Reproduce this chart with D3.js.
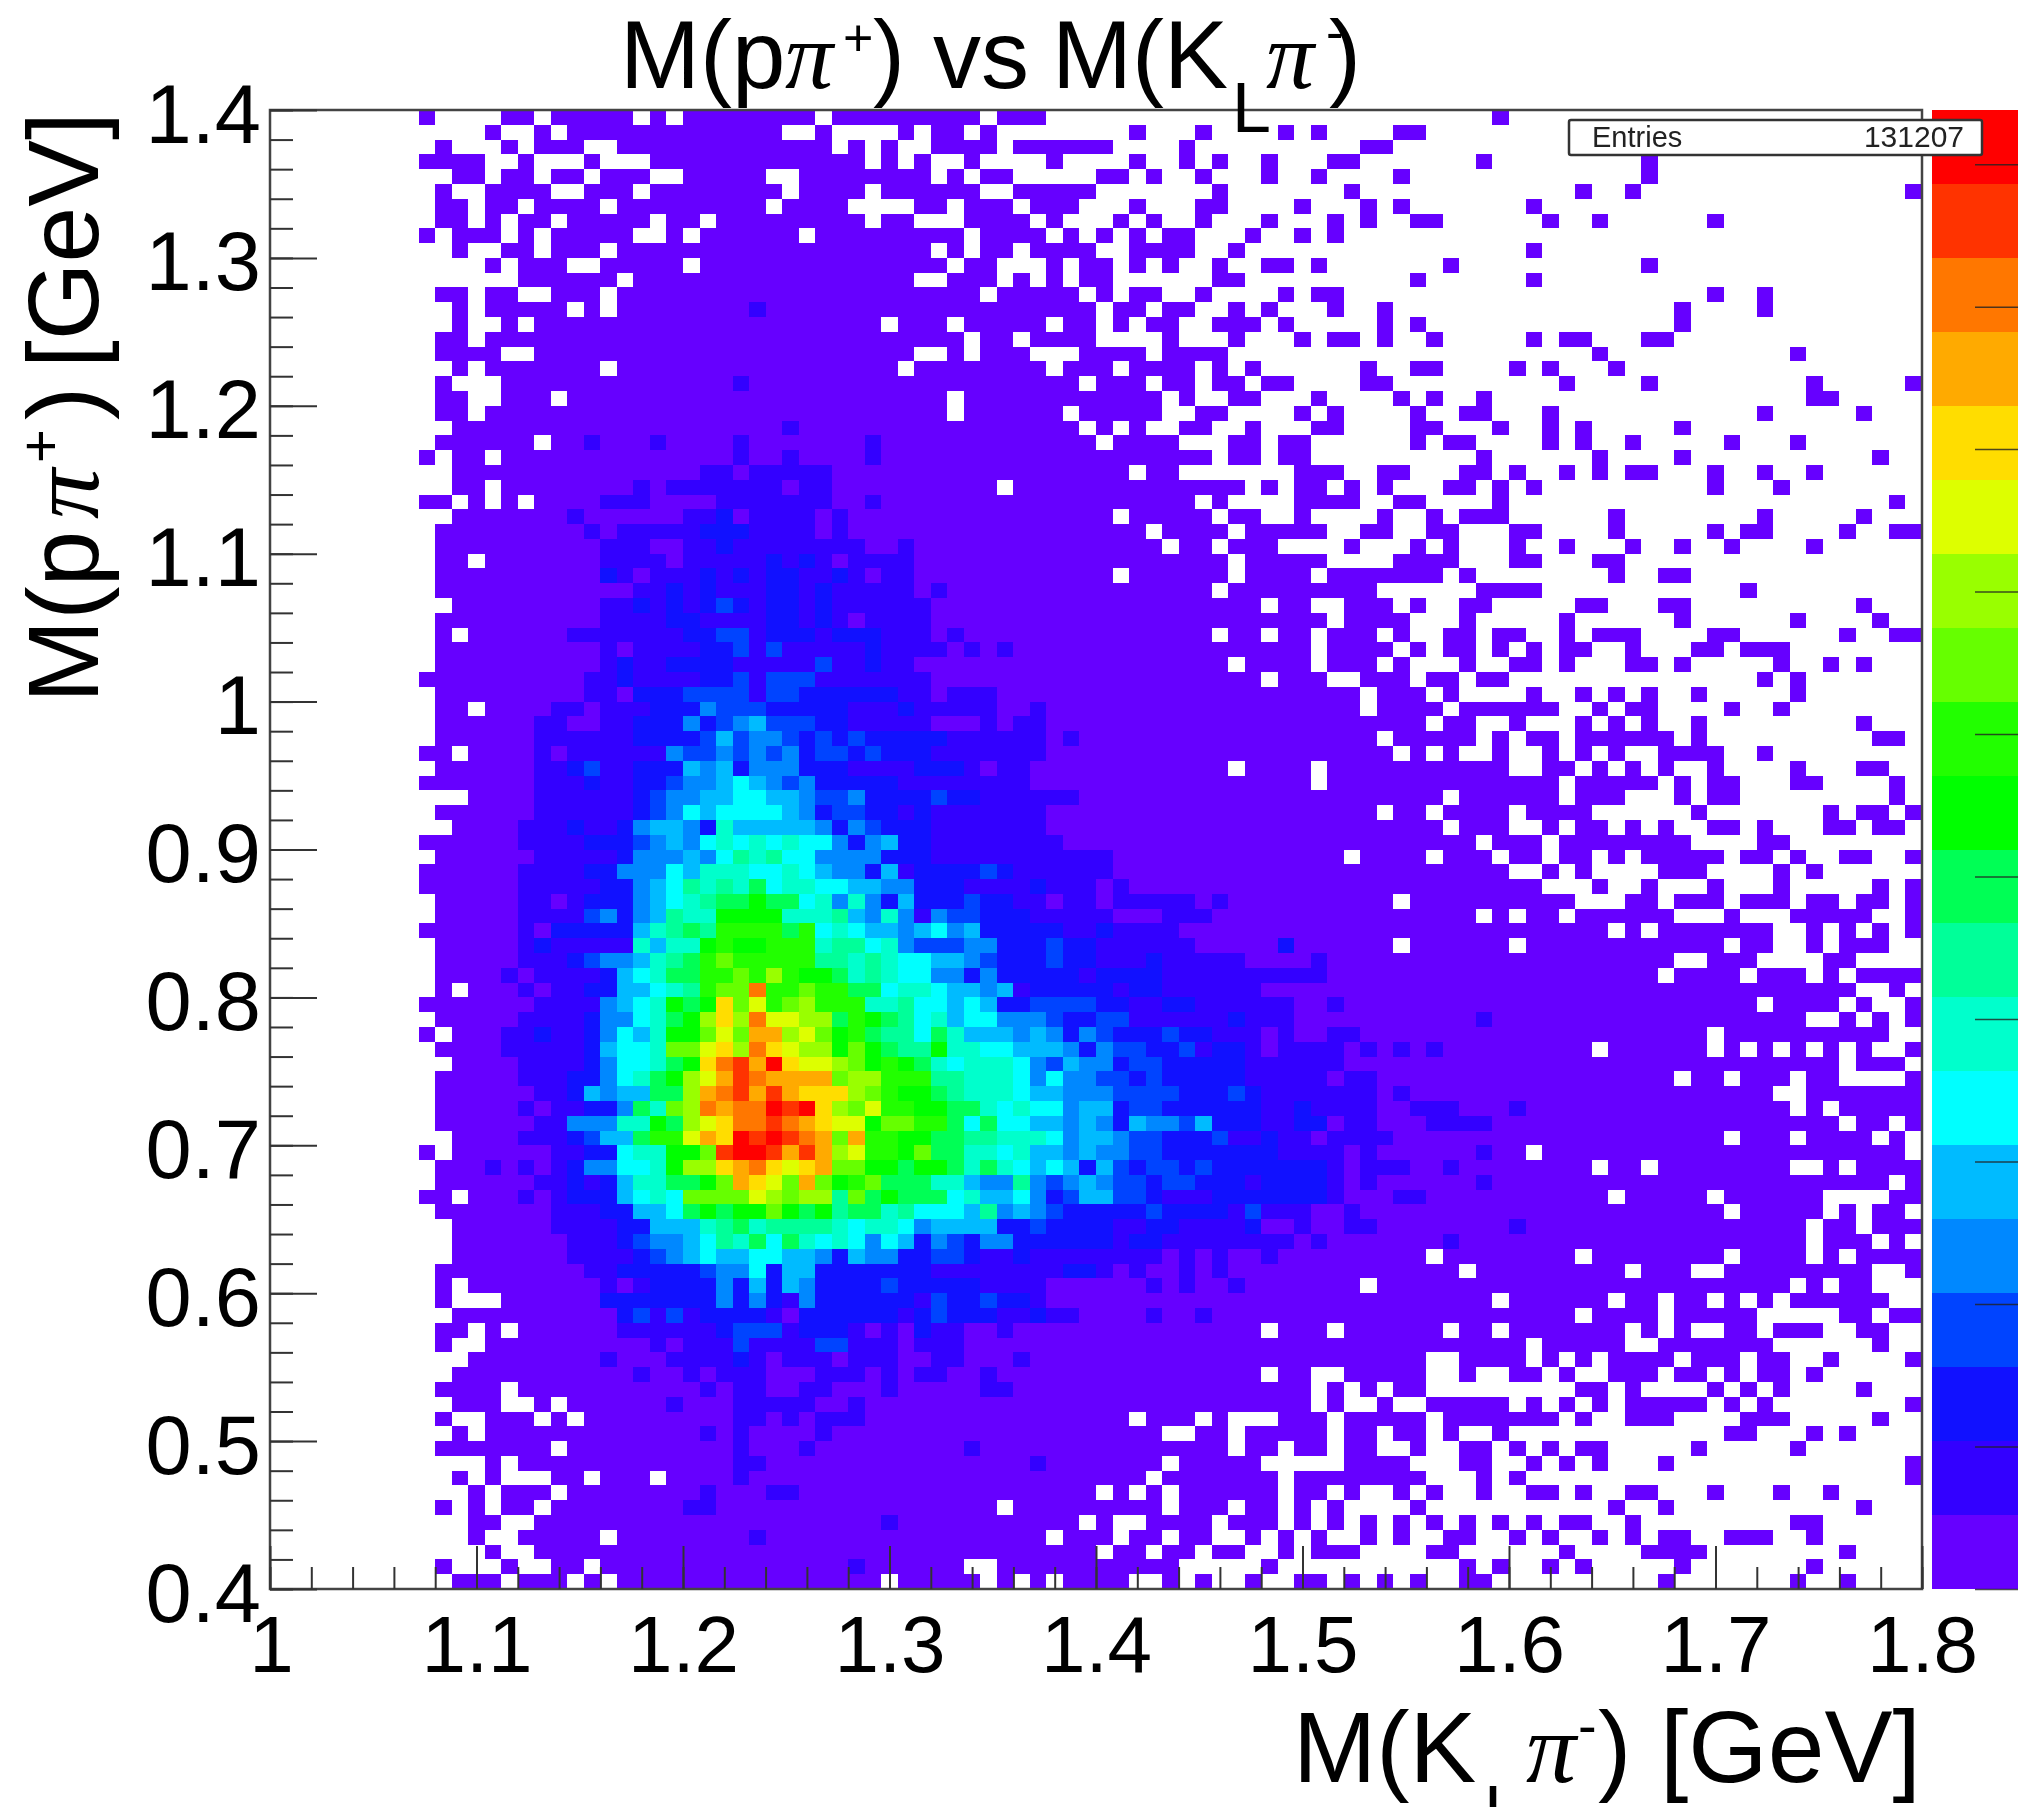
<!DOCTYPE html>
<html>
<head>
<meta charset="utf-8">
<script src="https://cdn.jsdelivr.net/npm/d3@7"></script>
<style>
  html, body { margin: 0; padding: 0; background: #fff; overflow: hidden; }
  text { font-family: "Liberation Sans", Arial, sans-serif; fill: #000; }
  /* the reference is a slightly soft upscaled bitmap */
  svg { filter: blur(0.7px); }
</style>
</head>
<body>
<script>
const xTickLabels = ["1", "1.1", "1.2", "1.3", "1.4", "1.5", "1.6", "1.7", "1.8"];
const yTickLabels = ["0.4", "0.5", "0.6", "0.7", "0.8", "0.9", "1", "1.1", "1.2", "1.3", "1.4"];
const entriesLabel = "Entries";
const entriesValue = "131207";
const zTicks = [0, 10, 20, 30, 40, 50, 60, 70, 80, 90, 100];

// the 20 colour levels of the z axis, bottom to top
const palette = ["#6600ff", "#3300ff", "#1111ff", "#0044ff", "#0088ff", "#00bbff", "#00ffff", "#00ffcc", "#00ff99", "#00ff55",
  "#00ff00", "#22ff00", "#66ff00", "#99ff00", "#ddff00", "#ffdd00", "#ffaa00", "#ff7700", "#ff3300", "#ff0000"];

// filled bins per row (top row first), as column numbers and ranges. 100 x 100 bins.
const occupied = [
  "9 14-15 17-21 23 25-32 34-42 44-46 74",
  "13 16 18-30 33 38 40-41 43 52 56 61 63 68-69",
  "10 14 16-18 21-33 35 37 40-43 45-50 55 66-67",
  "9-12 15 19 23-35 37 39 42 47 52 55 57 60 64-65 73 83",
  "11-12 14-15 17-18 20-22 25-29 32-39 41 43-44 50-51 53 56 60 63 68 83",
  "10 13-16 19-21 23-30 32-35 37-42 45-49 57 65 79 82 99",
  "10-11 13-14 16-19 21-29 31-34 39-40 42-44 46-48 52 56-57 62 66 68 76",
  "10-11 13 15-16 18-22 24-25 27-35 37-38 42-45 47 51 53 56 60 64 66 69-70 77 80 87",
  "9 11-13 15 17-21 24 26-31 33-41 43-46 48 50 52 54-55 59 62 64",
  "11 14-15 17-19 21-39 41 43-44 46-49 52-55 58 76",
  "13 15-17 20-24 26-40 42-43 47 49-50 52 54 57 60-61 63 71 83",
  "15-20 22-38 41-43 45 47 49-50 57-58 69 76",
  "10-11 13-14 17-19 21-42 44-48 50 52-53 56 61 63-64 87 90",
  "11 13-17 19 21-49 51-52 54-55 58 60 64 67 85 90",
  "11 14 16-36 38-40 42-46 48-49 51 53-54 57-59 61 67 69 85",
  "10-11 13-41 43-44 46-49 54 58 62 64-65 67 70 76 78-79 83-84",
  "10-13 16-38 41 43-45 49-52 54-57 80 92",
  "11 13-19 21-37 39-46 48-50 52-55 57 59 66 69-70 75 77 81",
  "10 14-48 50-52 54-55 57-58 60-61 66-67 78 83 93 99",
  "10-11 14-16 18-40 42-53 55 58-59 63 68 70 73 93-94",
  "10-11 13-40 42-47 49-53 56-57 62 64 69 72-73 77 90 96",
  "11-48 50 52 55-56 59 63-64 69-70 74 77 79 85",
  "10-15 17-49 51-54 58-59 61-62 69 71-72 77 79 82 88 92",
  "9 11-12 14-56 58-59 61-62 73 80 85 97",
  "11-51 53-54 62-64 67-68 72-73 75 78 80 82-83 87 90 93",
  "11-12 14-43 45-58 60 62-63 65 67 71-72 74 76 87 91",
  "9-10 12 14 16-55 57 62-65 68-69 74 98",
  "11-50 52-56 58-59 62 67 70 72-74 81 90 96",
  "10-52 54-57 59-63 66-67 70-71 75-76 81 87 89-90 95 98-99",
  "10-53 55-56 58-60 65 69 71 75 78 82 85 88 93",
  "10-11 13-57 59-63 68-71 75-76 80-81",
  "10-50 52-57 59-62 64-70 72 81 84-85",
  "10-56 58-66 73-76 89",
  "11-59 61-62 65-67 69 72-73 79-80 84-85 96",
  "10-63 65-68 72 78 85 92 97",
  "10 12-56 58-59 61-62 64-66 68 71-72 74-75 78 80-82 87-88 95 98-99",
  "10-62 64-67 69 71-72 74 76 78-79 82 86-87 89-91",
  "10-57 59-62 64-66 68 72 75-76 78 82-83 85 91 94 96",
  "9-59 61-63 66-68 70-71 73-74 90 92",
  "10-65 67-69 71 76 79 81 83 86 92",
  "10-11 13-65 67-70 72-77 80 82-83 88 91",
  "10-69 71-72 75 79 81 83 86 96",
  "10-66 68-72 74 76-77 79-84 86 97-98",
  "9-10 12-67 69 71 74 77 79 81 84-87 90",
  "10-57 59-62 64-74 77-78 80 82 84 87 92 96-97",
  "9-62 64-77 79-83 85 87-88 92-93 98",
  "12-70 72-77 79-81 85 87-88 98",
  "10-66 68-69 71-74 76-79 86 94 96-97 99",
  "11-70 72-74 77 79-80 82 84 87-88 90 94-95 97-98",
  "9-72 74-76 78-85 90-91",
  "10-64 66-69 71-73 75-76 78-79 81 83-87 89-90 92 95-96 99",
  "9-74 77 79 84-86 91 93",
  "9-76 80 83 87 91 97 99",
  "10-67 69-78 82-83 85-87 89-91 93-94 96-97 99",
  "10-72 74 76-77 79-84 88 92-96 99",
  "9-80 82 84-90 93 95 97 99",
  "10-67 69-74 76-87 89-90 93 95-97",
  "10-84 87-89 94-95",
  "10-83 85-88 90-92 94 96-99",
  "10 12-95 98",
  "9-89 91-94 96 99",
  "10-92 95 97 99",
  "9 11-86 88-97",
  "10-79 81-86 88 90 92 94 96 99",
  "11-94 96-98",
  "10-84 86-87 89-91 93-94 99",
  "10-90 93-99",
  "10-91 93 95-99",
  "10-94 96-97 99",
  "11-87 89-91 93-96 98",
  "9 11-75 77-98",
  "10-79 81-82 84-91 94 96-99",
  "10-97 99",
  "9-10 12-80 82-86 88-93 98-99",
  "10-87 89-93 95 97-98",
  "11-92 94-95 97-99",
  "11-92 94-96 98",
  "11-69 71-78 80-87 89-92 94 96-99",
  "10-71 73-81 83-85 88-96 99",
  "10 12-65 67-91 93 95-96",
  "10 14-73 75-80 82-83 85-86 88 90 92-97",
  "11-78 80-83 85-89 95-96 98-99",
  "10-11 13 15-59 61-63 65-70 72-73 75-81 83 85 88-89 91-93 96-97",
  "10 13-75 77-81 84-90 97",
  "12-69 72-75 77 79 81-84 86-88 90-91 94 99",
  "11-59 61-62 65-69 72 75-76 78 81-83 85-86 88 90-91 93",
  "10-13 15-62 64 66 68-69 79-80 82 87 89 91 96",
  "11-13 16 18-62 64 67 70-74 76 78 80 82-86 88 90 99",
  "10 13-15 17 19-51 53-55 57 61-63 65-69 71-77 79 82-84 89-91 97",
  "11 13-53 56-57 59-63 65-66 68-69 71 74 88-89 93 95",
  "10-16 18-57 59-60 62-63 65-66 69 72-73 75 77 79-80 86 92",
  "13 15-53 55-59 65-68 72-73 76 78 80 84 99",
  "11 13 17-18 20-22 24-52 54-60 62-69 73 75 99",
  "12 14-16 18-49 51 53 55-60 62-63 65 68 70 73 76-77 79 82-83 87 91 94",
  "10 12 14-15 17-43 45-53 55-57 59-60 62 64 69 81 84 96",
  "12-13 16-48 50 53-56 58-60 62 64 66 68 70 72 74 76 78-79 82 92-93",
  "12 15-19 21-46 48-50 52-53 55-56 59 61 63 66 68 71-72 75 77 80 82 84-85 88-90 93",
  "13 16-49 51-52 54-55 57-58 61 63-65 70-71 78 83-86 95",
  "10 14 17-18 20-41 44-54 60 72 74 77 79 85 93",
  "11-13 15-17 19 21-36 38-42 44 46 48-51 54 56 59 62-63 65 67 69 72-73 84 92 95"
];

// colour level above 1: [row, first column, levels] with one base-36 digit per bin
const levelRows = [
  [13, 29, "2"], [18, 28, "2"], [21, 31, "2"],
  [22, 19, "2"], [22, 23, "2"], [22, 28, "2"], [22, 36, "2"],
  [23, 28, "2"], [23, 31, "2"], [23, 36, "2"],
  [24, 26, "22"], [24, 29, "22222"],
  [25, 22, "2"], [25, 24, "2222222"], [25, 32, "22"],
  [26, 20, "222"], [26, 27, "2222222"], [26, 36, "2"],
  [27, 18, "2 111111 22 3 1 2222 1 2"],
  [28, 19, "2 1 22222 333 2222 1 2"],
  [29, 20, "222 11 22 3 22222222 11 2"],
  [30, 20, "2222 1 22222 3 2 3 2 1 2222"],
  [31, 20, "3212223232 332232122"],
  [32, 20, "11 22 3 2 3 222 33 2 3 22222 1 2"],
  [33, 20, "22 3 2 3 2 3 4 3 2 33 2 3 222222"],
  [34, 20, "2222 33 2222 33 2 3 2 1 2222"],
  [35, 18, "2222222 33 44 2 333 2 333 222 1 2"],
  [36, 20, "21 2222 33 4 2 4 22222 3 2222 1 2 1 2"],
  [37, 20, "2322333322 2224223221"],
  [38, 19, "22 3 2222 33 4 2 444 2222222"],
  [39, 19, "22 1 333 4444 2 44 33333 3 22 1 222"],
  [40, 14, "1112212223 3354443333 3222322222 1121"],
  [41, 14, "1122112233 3534564443 3222221112 1221"],
  [42, 14, "1122222233 3346455434 3433333222 2221 2"],
  [43, 14, "1121222222 5445454534 4343332222 2221"],
  [44, 14, "1122342233 3656355533 3222233321 2211"],
  [45, 14, "1122232233 4556765453 3333222222 2211"],
  [46, 14, "1122222234 5566776654 4533334332 2222 2"],
  [47, 14, "1122222234 5767777653 4433232222 2221"],
  [48, 14, "1222322356 6538666665 3543332222 2221"],
  [49, 14, "1222233345 6578787877 5356332222 2222"],
  [50, 14, "1122222355 5657989775 5553332222 2222 222"],
  [51, 14, "1222233555 7688877876 5536233334 3222 222"],
  [52, 14, "1222223356 79898a7887 7665533322 2232 2212"],
  [53, 14, "1221233356 789aabaa78 5853633343 3221 2212222212"],
  [54, 14, "1222245356 988bbbb888 9658525443 3322 222111222"],
  [55, 14, "1213333368 9a9ccccac7 8766567563 3333 2232222"],
  [56, 14, "1232222286 88bcbbccc8 9978544455 3334 33222222"], [56, 61, "3"],
  [57, 14, "1222345568 9acdccccc9 9898776654 3334 33222322222"], [57, 63, "2"],
  [58, 14, "2122223678 aaccdcecbb a898775535 3333 32 3333 2222222222"],
  [59, 14, "1212233667 89cddiccdc caa7887665 6233 333 2 33 222222"],
  [60, 14, "1122225678 babgdfcdec cc88977676 3344 44 33 22 33 222222"], [60, 64, "2"],
  [61, 14, "1222235578 abegeiffee acba978677 5554 33 44 222222 3 222"], [61, 73, "2"],
  [62, 14, "2232235768 bbdfdhhefd bca997a866 6565 354 333 4 33 22 2 1 2 11 22"],
  [63, 14, "2222236778 ddfgeigfee bdba99b887 7666 535 44 33 4 2 33 2 1 2222 1 2 1 2 1 2"],
  [64, 14, "1222235778 abgijhkgff edbcba8788 8754 655 3 44 33333 222222"],
  [65, 14, "122233578a befhjihhhh deeccc9988 8757 55 44 3 4 33333 22222 1 22"],
  [66, 14, "112236566a aehijhjhgg gedcbba988 8766 555 4444 333 4 3 2222222 1 2"],
  [67, 14, "12122335a8 deihiikjkg edfccbbaa8 7877 566 3 44 3 33333 22 3 2222 11 222 111 2"],
  [68, 14, "112255588b aefgiijihg ffbddcca7a 7766 565 3 6 55 4 6 333 22 33 1 22 111 2222"],
  [69, 14, "12223466ac cfhgkjkjih dhccbbaa99 8887 566 5 44 33 3 4 22 3 22 1 2222"],
  [70, 14, "1112233788 bbdjkkjhjh efccbdaa88 7866 565 5 44 3333333 2222 1 2"], [70, 73, "2"],
  [71, 13, "2 1212355778 beeghigfgh ddbbabba8a 8767 636 4 3 44 3 4 33333 33 2 1 222"], [71, 71, "2"],
  [72, 14, "1122323688 aabdhgfdhd bcdaaa8865 5954 565 44 3 44 333 2 33 33 2 1 2"], [72, 73, "2"],
  [73, 14, "1212333678 7ddddfedee 9dabaaa786 6753 4 66 44 3 222 3333333 2"], [73, 68, "22"],
  [74, 14, "1112223366 7ababbdbab 9aa8977769 5654 33333 4 3333 2 4 222 11 2"],
  [75, 14, "1112222336 6689a89999 8788756666 3343 333 22 33 2222 3 11 2 11 22"], [75, 75, "2"],
  [76, 14, "1111222345 56798a7a87 8757635435 5333 333 2 33 22222222 1 2"], [76, 71, "2"],
  [77, 14, "1111222234 5676677665 3655334432 2322 222222 1 2 1 2"], [77, 60, "2"],
  [78, 14, "1111122333 3345573663 3333332222 2222 33 2 1 2 11 2 1 2"],
  [79, 14, "1111112123 3335363653 3334333332 2221"], [79, 53, "2"], [79, 55, "2"], [79, 58, "2"],
  [80, 20, "3333333 5 3 5 3 2 5 333333 2 4 33 4 33 2 1"],
  [81, 21, "3 4 2 4 2 3 333 2 1 333333 2 3 4 333 22 3 2 2"], [81, 53, "2"], [81, 56, "2"],
  [82, 21, "222222 3 444 2 333 2 1 2 1 3 22 11 2"],
  [83, 23, "2 1 22 2 4 2222 44 222 1 222"],
  [84, 20, "2"], [84, 24, "2222 3 2 1 222 1 222 11 22"], [84, 45, "2"],
  [85, 22, "2"], [85, 25, "2 1 222 111 222 1 2 1 22"], [85, 43, "2"],
  [86, 26, "21 22 11 22 11 1 2"], [86, 43, "22"],
  [87, 24, "2"], [87, 28, "22"], [87, 30, "222"], [87, 35, "2"],
  [88, 28, "22"], [88, 31, "2"], [88, 33, "222"],
  [89, 26, "212"], [89, 33, "2"],
  [90, 28, "2"], [90, 32, "2"], [90, 42, "2"],
  [91, 28, "22"], [91, 46, "2"],
  [92, 28, "2"], [93, 26, "2"], [93, 30, "22"], [94, 25, "22"],
  [95, 37, "2"], [96, 29, "2"], [98, 35, "2"]
];

const width = 2018;
const height = 1807;
const plot = { left: 270, right: 1922, top: 110, bottom: 1589 };
const zMax = 103.8;

const x = d3.scaleLinear().domain([1, 1.8]).range([plot.left, plot.right]);
const y = d3.scaleLinear().domain([0.4, 1.4]).range([plot.bottom, plot.top]);
const z = d3.scaleLinear().domain([0, zMax]).range([plot.bottom, plot.top]);
const color = d3.scaleQuantize().domain([0, zMax]).range(palette);

// unpack the two tables into one grid of z values
const levelAt = new Map();
occupied.forEach((ranges, row) => {
  ranges.split(" ").forEach(part => {
    const ends = part.split("-").map(Number);
    for (let col = ends[0]; col <= ends[ends.length - 1]; col++) levelAt.set(row * 100 + col, 1);
  });
});
levelRows.forEach(([row, start, digits]) => {
  digits.replace(/ /g, "").split("").forEach((ch, i) => {
    const key = row * 100 + start + i;
    if (levelAt.has(key)) levelAt.set(key, parseInt(ch, 36));
  });
});
const bins = Array.from(levelAt, ([key, level]) => ({
  row: Math.floor(key / 100),
  col: key % 100,
  value: (level - 0.5) * zMax / palette.length
}));

const svg = d3.select("body").append("svg")
  .attr("width", width)
  .attr("height", height)
  .style("display", "block");

// bins, snapped to whole pixels so no seams show between them
svg.append("g").selectAll("rect")
  .data(bins)
  .join("rect")
  .attr("x", d => Math.round(x(1 + d.col * 0.008)))
  .attr("width", d => Math.round(x(1 + (d.col + 1) * 0.008)) - Math.round(x(1 + d.col * 0.008)))
  .attr("y", d => Math.round(y(1.4 - d.row * 0.01)))
  .attr("height", d => Math.round(y(1.4 - (d.row + 1) * 0.01)) - Math.round(y(1.4 - d.row * 0.01)))
  .attr("fill", d => color(d.value))
  .attr("shape-rendering", "crispEdges");

// colour bar, cut off by the right edge of the page
svg.append("g").selectAll("rect")
  .data(palette)
  .join("rect")
  .attr("x", 1932)
  .attr("width", width - 1932 + 4)
  .attr("y", (d, i) => Math.round(z((i + 1) * zMax / palette.length)))
  .attr("height", (d, i) => Math.round(z(i * zMax / palette.length)) - Math.round(z((i + 1) * zMax / palette.length)))
  .attr("fill", d => d)
  .attr("shape-rendering", "crispEdges");

const zAxis = svg.append("g")
  .attr("transform", `translate(${width},0)`)
  .call(d3.axisLeft(z).tickValues(zTicks).tickSize(43).tickFormat(""));
zAxis.select(".domain").remove();
zAxis.selectAll("line").attr("stroke", "#222").attr("stroke-opacity", 0.8).attr("stroke-width", 1.5);

// frame and ticks
svg.append("rect")
  .attr("x", plot.left).attr("y", plot.top)
  .attr("width", plot.right - plot.left).attr("height", plot.bottom - plot.top)
  .attr("fill", "none").attr("stroke", "#444").attr("stroke-width", 2.5);

function styleTicks(g) {
  g.select(".domain").remove();
  g.selectAll("line").attr("stroke", "#333").attr("stroke-width", 2);
}

const xMinor = d3.range(0, 41).map(i => 1 + i * 0.02);
const yMinor = d3.range(0, 51).map(i => 0.4 + i * 0.02);
const xMajor = xTickLabels.map(Number);
const yMajor = yTickLabels.map(Number);

svg.append("g").attr("transform", `translate(0,${plot.bottom})`)
  .call(d3.axisBottom(x).tickValues(xMinor).tickSize(-22).tickFormat(""))
  .call(styleTicks);
svg.append("g").attr("transform", `translate(${plot.left},0)`)
  .call(d3.axisLeft(y).tickValues(yMinor).tickSize(-23).tickFormat(""))
  .call(styleTicks);

const xAxis = svg.append("g").attr("transform", `translate(0,${plot.bottom})`)
  .call(d3.axisBottom(x).tickValues(xMajor).tickSize(-43).tickFormat((d, i) => xTickLabels[i]))
  .call(styleTicks);
xAxis.selectAll("text")
  .attr("y", 83).attr("dy", 0)
  .attr("font-size", 80);
xAxis.selectAll("text").filter((d, i) => i === 0).attr("dx", 1);

const yAxis = svg.append("g").attr("transform", `translate(${plot.left},0)`)
  .call(d3.axisLeft(y).tickValues(yMajor).tickSize(-47).tickFormat((d, i) => yTickLabels[i]))
  .call(styleTicks);
yAxis.selectAll("text")
  .attr("x", -9).attr("dy", 32)
  .attr("text-anchor", "end")
  .attr("font-size", 83);
svg.selectAll("g.tick text").style("font-family", '"Liberation Sans", Arial, sans-serif').attr("fill", "#000");

// titles are set piece by piece, the sub and superscripts sit at their own offsets
function piece(g, str, px, py, size, greek) {
  g.append("text")
    .attr("x", px).attr("y", py)
    .attr("font-size", size)
    .style("font-family", greek ? '"Liberation Serif", serif' : null)
    .style("font-style", greek ? "italic" : null)
    .text(str);
}

const title = svg.append("g");
piece(title, "M(p", 620, 88, 96);
piece(title, "π", 785, 88, 96, true);
piece(title, "+", 843, 56, 52);
piece(title, ")", 873, 88, 96);
piece(title, "vs", 933, 88, 96);
piece(title, "M(K", 1052, 88, 96);
piece(title, "L", 1232, 132, 70);
piece(title, "π", 1266, 88, 96, true);
piece(title, "-", 1326, 50, 52);
piece(title, ")", 1329, 88, 96);

const xTitle = svg.append("g");
piece(xTitle, "M(K", 1293, 1782, 100);
piece(xTitle, "L", 1484, 1835, 70);
piece(xTitle, "π", 1526, 1782, 100, true);
piece(xTitle, "-", 1578, 1745, 56);
piece(xTitle, ")", 1598, 1782, 100);
piece(xTitle, "[GeV]", 1660, 1782, 102);

const yTitle = svg.append("g").attr("transform", "translate(98,703) rotate(-90)");
piece(yTitle, "M(p", 0, 0, 100);
piece(yTitle, "π", 184, 0, 100, true);
piece(yTitle, "+", 240, -38, 58);
piece(yTitle, ")", 283, 0, 100);
piece(yTitle, "[GeV]", 335, 0, 100);

// stats box
const box = svg.append("g");
box.append("rect")
  .attr("x", 1569).attr("y", 120)
  .attr("width", 413).attr("height", 35)
  .attr("rx", 2)
  .attr("fill", "#fff").attr("stroke", "#333").attr("stroke-width", 2.5);
box.append("text")
  .attr("x", 1592).attr("y", 147)
  .attr("font-size", 29)
  .style("fill", "#222")
  .text(entriesLabel);
box.append("text")
  .attr("x", 1964).attr("y", 147)
  .attr("font-size", 30)
  .attr("text-anchor", "end")
  .style("fill", "#222")
  .text(entriesValue);
</script>
</body>
</html>
